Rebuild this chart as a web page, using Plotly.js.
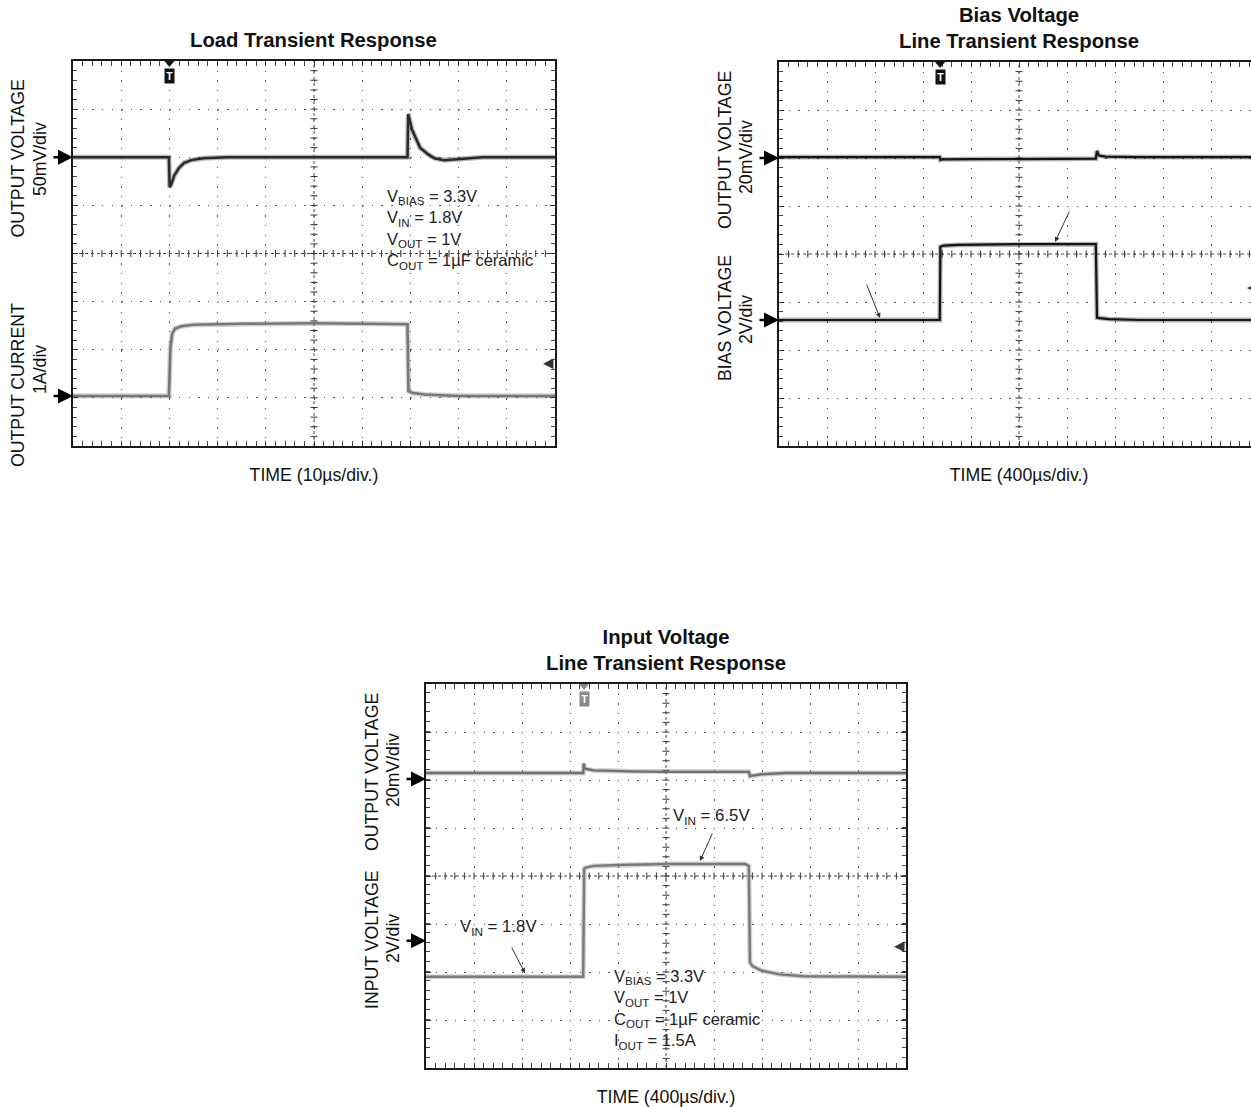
<!DOCTYPE html>
<html>
<head>
<meta charset="utf-8">
<script src="https://cdn.plot.ly/plotly-3.0.1.min.js"></script>
<style>
html,body{margin:0;padding:0;overflow:hidden;background:#fff;}
#chart{width:1260px;height:1107px;}
</style>
</head>
<body>
<div id="chart"></div>
<script>
// ---------- DATA ----------
// Plot 1: Load transient (time in µs, 10 µs/div)
const loadTime    = [0, 19.9, 20.05, 20.3, 21, 22, 23, 24.5, 27, 32, 69.4, 69.55, 70.3, 71.2, 72, 73.7, 75, 77, 80, 85, 100];
const loadVout    = [0, 0, -31, -29, -19, -11, -6, -3, -1, 0, 0, 45, 29, 19, 10, 3, -1, -3, -2, 0, 0];      // mV deviation
const loadItime   = [0, 19.9, 20.2, 20.6, 21.2, 22.5, 25, 35, 50, 65, 69.4, 69.6, 70.5, 73, 80, 100];
const loadIout    = [0, 0, 1.0, 1.3, 1.4, 1.45, 1.48, 1.5, 1.51, 1.5, 1.49, 0.1, 0.06, 0.03, 0, 0];          // A

// Plot 2: Bias voltage line transient (time in µs, 400 µs/div)
const biasOutTime = [0, 1340, 1345, 1360, 1600, 2000, 2640, 2650, 2665, 2720, 3000, 4000];
const biasOutV    = [0.4, 0.4, -0.8, -0.6, -0.5, -0.4, -0.3, 3.0, 1.0, 0.6, 0.4, 0.4];                      // mV deviation
const biasTime    = [0, 1340, 1345, 1370, 1500, 2000, 2640, 2650, 2670, 2750, 3000, 4000];
const biasV       = [3.3, 3.3, 6.35, 6.4, 6.43, 6.46, 6.46, 3.4, 3.38, 3.34, 3.3, 3.3];                      // V

// Plot 3: Input voltage line transient (time in µs, 400 µs/div)
const inOutTime   = [0, 1310, 1315, 1322, 1335, 1400, 1700, 2000, 2690, 2700, 2720, 2800, 3000, 4000];
const inOutV      = [2.5, 2.5, 6.5, 4.5, 4.2, 3.6, 3.2, 3.0, 3.0, 1.2, 1.4, 2.0, 2.5, 2.5];                  // mV deviation
const inTime      = [0, 1310, 1318, 1330, 1400, 1600, 2000, 2660, 2690, 2700, 2720, 2800, 2950, 3150, 4000];
const inV         = [1.8, 1.8, 6.3, 6.35, 6.42, 6.46, 6.5, 6.5, 6.42, 2.4, 2.25, 2.05, 1.9, 1.82, 1.8];     // V

// Trigger times and trigger levels
const triggerTimes = [20, 1342, 1317];
const triggerLevels = [0.67, 4.63, 3.05];

// Scope channel settings (per division) and reference levels
const divX = [10, 400, 400];
const divCh1 = [50, 20, 20];     // mV/div
const divCh2 = [1, 2, 2];        // A/div, V/div, V/div
const refCh1 = [0, 0, 0];
const refCh2 = [0, 3.3, 3.3];

// Text
const titles = ["<b>Load Transient Response</b>", "<b>Bias Voltage<br>Line Transient Response</b>", "<b>Input Voltage<br>Line Transient Response</b>"];
const xTitles = ["TIME (10µs/div.)", "TIME (400µs/div.)", "TIME (400µs/div.)"];
const ch1Labels = [["OUTPUT VOLTAGE", "50mV/div"], ["OUTPUT VOLTAGE", "20mV/div"], ["OUTPUT VOLTAGE", "20mV/div"]];
const ch2Labels = [["OUTPUT CURRENT", "1A/div"], ["BIAS VOLTAGE", "2V/div"], ["INPUT VOLTAGE", "2V/div"]];
const cond1 = "V<sub>BIAS</sub> = 3.3V<br>V<sub>IN</sub> = 1.8V<br>V<sub>OUT</sub> = 1V<br>C<sub>OUT</sub> = 1µF ceramic";
const cond3 = "V<sub>BIAS</sub> = 3.3V<br>V<sub>OUT</sub> = 1V<br>C<sub>OUT</sub> = 1µF ceramic<br>I<sub>OUT</sub> = 1.5A";

// ---------- LAYOUT GEOMETRY ----------
const W = 1260, H = 1107;
const FONT = "Liberation Sans, Arial, Helvetica, sans-serif";
const LBL = 17.7;
const frames = [
  {l: 73, r: 555, t: 61, b: 446},
  {l: 779, r: 1259, t: 62, b: 446},
  {l: 426, r: 906, t: 684, b: 1068}
];
const ch1Range = [[-6, 2], [-6, 2], [-6.02, 1.98]];
const ch2Range = [[-1.04, 6.96], [-2.625, 5.375], [-2.65, 5.35]];

const px = x => x / W;
const py = y => 1 - y / H;

const layout = {
  width: W, height: H,
  margin: {l: 0, r: 0, t: 0, b: 0},
  paper_bgcolor: "#fff", plot_bgcolor: "#fff",
  showlegend: false,
  font: {family: FONT, color: "#111", size: LBL},
  shapes: [], annotations: []
};
const data = [];

const series = [
  {t1: loadTime, v1: loadVout, c1: "#2a2a2a", w1: 2.5, t2: loadItime, v2: loadIout, c2: "#777777", w2: 2.6},
  {t1: biasOutTime, v1: biasOutV, c1: "#151515", w1: 2.2, t2: biasTime, v2: biasV, c2: "#151515", w2: 2.2},
  {t1: inOutTime, v1: inOutV, c1: "#707070", w1: 2.4, t2: inTime, v2: inV, c2: "#7a7a7a", w2: 2.4}
];

for (let k = 0; k < 3; k++) {
  const f = frames[k];
  const xn = k === 0 ? "" : String(k + 1);
  const y1n = k === 0 ? "" : String(2 * k + 1);
  const y2n = String(2 * k + 2);
  const xid = "x" + xn, y1id = "y" + y1n, y2id = "y" + y2n;
  const dx = divX[k], d1 = divCh1[k], d2 = divCh2[k];
  const gridDash = (0.2 * (f.r - f.l) / 10 - 1.4).toFixed(2);

  const commonTicks = {
    showline: true, linecolor: "#1a1a1a", linewidth: 1.6, mirror: "allticks",
    ticks: "inside", ticklen: 5, tickcolor: "#333", tickwidth: 1,
    showticklabels: false, zeroline: false,
    showgrid: true, gridcolor: "#555", gridwidth: 1, griddash: "1.4px," + gridDash + "px",
    fixedrange: true
  };

  layout["xaxis" + xn] = Object.assign({}, commonTicks, {
    domain: [px(f.l), px(f.r)], range: [0, 10 * dx], dtick: dx, tick0: 0,
    anchor: y1id,
    minor: {dtick: dx / 5, ticks: "inside", ticklen: 4, tickcolor: "#444", showgrid: false},
    title: {text: xTitles[k], font: {size: LBL, family: FONT, color: "#111"}, standoff: 22}
  });
  layout["yaxis" + y1n] = Object.assign({}, commonTicks, {
    domain: [py(f.b), py(f.t)],
    range: [refCh1[k] + ch1Range[k][0] * d1, refCh1[k] + ch1Range[k][1] * d1],
    dtick: d1, tick0: refCh1[k] + ch1Range[k][0] * d1,
    anchor: xid,
    minor: {dtick: d1 / 5, ticks: "inside", ticklen: 4, tickcolor: "#444", showgrid: false}
  });
  layout["yaxis" + y2n] = {
    overlaying: y1id, anchor: xid, visible: false, fixedrange: true,
    range: [refCh2[k] + ch2Range[k][0] * d2, refCh2[k] + ch2Range[k][1] * d2]
  };

  const s = series[k];
  // noise band (same samples, wider translucent stroke) + core trace
  [[s.t1, s.v1, s.c1, s.w1, y1id], [s.t2, s.v2, s.c2, s.w2, y2id]].forEach(([tx, vy, c, w, yid]) => {
    data.push({type: "scatter", mode: "lines", x: tx, y: vy, xaxis: xid, yaxis: yid,
               line: {color: c, width: w + 2.6}, opacity: 0.33, hoverinfo: "skip"});
    data.push({type: "scatter", mode: "lines", x: tx, y: vy, xaxis: xid, yaxis: yid,
               line: {color: c, width: w}, hoverinfo: "skip"});
  });

  // center crosshair (denser dotted line + small crossing ticks)
  const y1r = layout["yaxis" + y1n].range;
  const ymid = (y1r[0] + y1r[1]) / 2;
  const xmid = 5 * dx;
  layout.shapes.push({type: "line", xref: xid, yref: y1id, x0: 0, x1: 10 * dx, y0: ymid, y1: ymid,
                      line: {color: "#444", width: 1, dash: "dot"}, layer: "below"});
  layout.shapes.push({type: "line", xref: xid, yref: y1id, x0: xmid, x1: xmid, y0: y1r[0], y1: y1r[1],
                      line: {color: "#444", width: 1, dash: "dot"}, layer: "below"});
  for (let i = 1; i < 50; i++) {
    layout.shapes.push({type: "line", xref: xid, yref: y1id, ysizemode: "pixel", yanchor: ymid,
                        x0: i * dx / 5, x1: i * dx / 5, y0: -3.5, y1: 3.5, line: {color: "#333", width: 1}, layer: "below"});
  }
  for (let i = 1; i < 40; i++) {
    const yv = y1r[0] + i * d1 / 5;
    layout.shapes.push({type: "line", xref: xid, yref: y1id, xsizemode: "pixel", xanchor: xmid,
                        x0: -3.5, x1: 3.5, y0: yv, y1: yv, line: {color: "#333", width: 1}, layer: "below"});
  }

  // channel reference arrows (left of frame)
  [[y1id, refCh1[k]], [y2id, refCh2[k]]].forEach(([yid, ref]) => {
    layout.annotations.push({xref: xid + " domain", x: 0, yref: yid, y: ref, text: "", showarrow: true,
      ax: -21, ay: 0, arrowhead: 2, arrowsize: 1.25, arrowwidth: 2.4, arrowcolor: "#000", standoff: 0});
  });

  // trigger marker at top: small down-triangle + "T" badge
  const trigColor = k === 2 ? "#8a8a8a" : "#111";
  layout.shapes.push({type: "path", xref: xid, yref: y1id + " domain", xsizemode: "pixel", ysizemode: "pixel",
    xanchor: triggerTimes[k], yanchor: 1, path: "M -5 0 L 5 0 L 0 -6 Z",
    fillcolor: trigColor, line: {width: 0}});
  layout.annotations.push({xref: xid, x: triggerTimes[k], yref: y1id + " domain", y: 0.983, yanchor: "top",
    text: "<b>T</b>", showarrow: false, font: {size: 10.5, color: "#fff", family: FONT}, bgcolor: trigColor, borderpad: 1.2});

  // trigger level marker at right
  layout.annotations.push({xref: xid + " domain", x: 0.975, yref: y2id, y: triggerLevels[k], text: "", showarrow: true,
    ax: 8, ay: 0, arrowhead: 2, arrowsize: 1.4, arrowwidth: 1.5, arrowcolor: "#333", standoff: 0});

  // vertical channel labels
  const midPx1 = [[158.5, 159], [150, 157], [772, 770]][k];
  const midPx2 = [[385, 370], [318, 320], [940, 939]][k];
  const lx = [[18, 40], [725, 746], [372, 393]][k];
  [[ch1Labels[k], midPx1], [ch2Labels[k], midPx2]].forEach(([labs, mids]) => {
    labs.forEach((txt, j) => {
      layout.annotations.push({xref: "paper", yref: "paper", x: px(lx[j]), y: py(mids[j]),
        text: txt, textangle: -90, showarrow: false, xanchor: "center", yanchor: "middle",
        font: {size: LBL, family: FONT, color: "#111"}});
    });
  });
}

// subplot titles
const titlePos = [[313, 40], [1019, 28], [666, 650]];
titles.forEach((t, k) => {
  layout.annotations.push({xref: "paper", yref: "paper", x: px(titlePos[k][0]), y: py(titlePos[k][1]),
    text: t, showarrow: false, xanchor: "center", yanchor: "middle",
    font: {size: 20.3, family: FONT, color: "#111"}});
});

// condition text blocks
layout.annotations.push({xref: "x", yref: "y", x: 64.8, y: -28.5, xanchor: "left", yanchor: "top", align: "left",
  text: cond1, showarrow: false, font: {size: 16.5, family: FONT, color: "#222"}});
layout.annotations.push({xref: "x3", yref: "y6", x: 1550, y: 2.3, xanchor: "left", yanchor: "top", align: "left",
  text: cond3, showarrow: false, font: {size: 16.5, family: FONT, color: "#222"}});

// plot 3 labels with pointer arrows
layout.annotations.push({xref: "x3", yref: "y6", x: 2383, y: 8.5, text: "V<sub>IN</sub> = 6.5V", showarrow: false,
  font: {size: 16.8, family: FONT, color: "#222"}});
layout.annotations.push({xref: "x3", yref: "y6", x: 608, y: 3.84, text: "V<sub>IN</sub> = 1.8V", showarrow: false,
  font: {size: 16.8, family: FONT, color: "#222"}});
const pointers = [
  ["x3", "y6", 2283, 6.62, 13, -29],
  ["x3", "y6", 825, 1.95, -14, -27],
  ["x2", "y4", 2300, 6.55, 15, -32],
  ["x2", "y4", 842, 3.38, -14, -35]
];
pointers.forEach(([xr, yr, x, y, ax, ay]) => {
  layout.annotations.push({xref: xr, yref: yr, x: x, y: y, text: "", showarrow: true, ax: ax, ay: ay,
    arrowhead: 2, arrowsize: 1, arrowwidth: 1, arrowcolor: "#333", standoff: 0});
});

Plotly.newPlot("chart", data, layout, {staticPlot: true, displayModeBar: false});
</script>
</body>
</html>
